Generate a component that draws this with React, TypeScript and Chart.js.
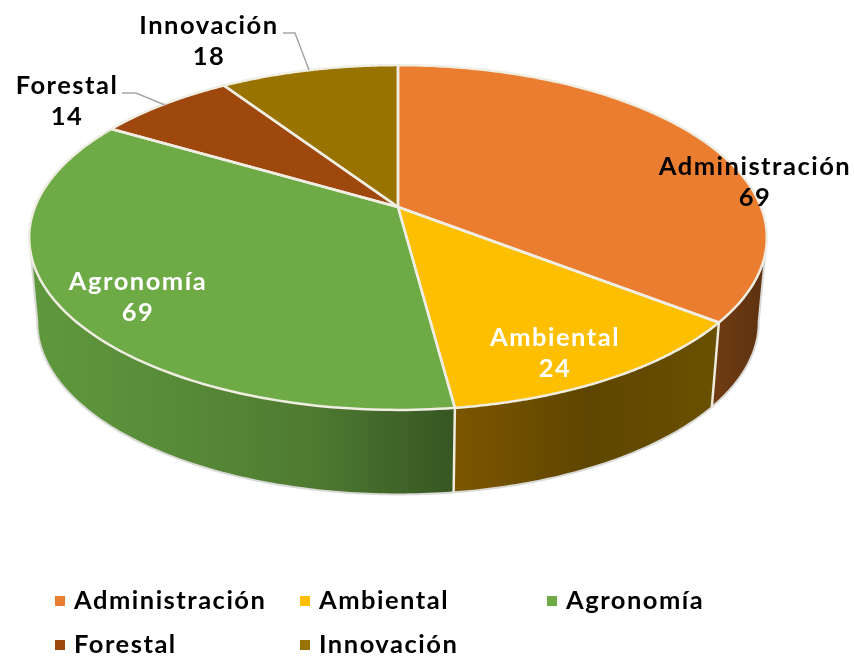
import React, { useEffect, useRef } from "react";
import { Chart, registerables } from "chart.js";

Chart.register(...registerables);

const categories = ["Administración", "Ambiental", "Agronomía", "Forestal", "Innovación"];
const values = [69, 24, 69, 14, 18];
const colors = ["#EB7D31", "#FDBF00", "#6EAB47", "#9E480E", "#997300"];
const wallStops = [
  ["#6E3B12", "#5C3110"],
  ["#7C5600", "#5F4600", "#6A5000"],
  ["#5F983D", "#588C38", "#4E7A31", "#375623"],
  ["#5F300A", "#5F300A"],
  ["#5C4500", "#5C4500"],
];
const labelTextColors = ["#000000", "#FFFFFF", "#FFFFFF", "#000000", "#000000"];

const FONT = "Lato, 'Noto Sans', sans-serif";
const CX = 398;
const CY = 207;
const A = 363;
const B = 167;
const K = 0.177;
const DEPTH = 84.5;
const SHRINK = 0.978;
const labelPos = [
  [755, 167],
  [555, 338],
  [138, 282],
  [67, 86],
  [209, 26],
];
const leaders: Record<number, number[][]> = {
  3: [[122, 93], [136, 93], [165, 105]],
  4: [[283, 33], [295, 33], [309, 70]],
};
const legendPos = [
  [55, 601],
  [300, 601],
  [547, 601],
  [55, 645],
  [300, 645],
];

function top(t: number): [number, number] {
  const u = Math.sin(t);
  const v = -Math.cos(t);
  const w = 1 - K * v;
  return [CX + (A * u) / w, CY + (B * v) / w];
}
function low(t: number): [number, number] {
  const [x, y] = top(t);
  return [CX + (x - CX) * SHRINK, y + DEPTH];
}

const VIS0 = (100 * Math.PI) / 180;
const VIS1 = (260 * Math.PI) / 180;

const pie3d = {
  id: "pie3d",
  beforeDatasetsDraw(chart: any) {
    const ctx: CanvasRenderingContext2D = chart.ctx;
    const meta = chart.getDatasetMeta(0);
    const bg = chart.data.datasets[0].backgroundColor as string[];
    const slices = meta.data.map((a: any) => ({
      s: a.startAngle + Math.PI / 2,
      e: a.endAngle + Math.PI / 2,
    }));
    ctx.save();
    ctx.lineJoin = "round";

    // side wall
    slices.forEach((sl: any, i: number) => {
      const a = Math.max(sl.s, VIS0);
      const b = Math.min(sl.e, VIS1);
      if (b <= a) return;
      const N = 80;
      const p0 = top(a);
      const p1 = top(b);
      const g = ctx.createLinearGradient(Math.min(p0[0], p1[0]), 0, Math.max(p0[0], p1[0]), 0);
      const st = wallStops[i];
      st.forEach((c, j) => g.addColorStop(j / (st.length - 1), c));
      ctx.beginPath();
      for (let n = 0; n <= N; n++) {
        const p = top(a + ((b - a) * n) / N);
        n ? ctx.lineTo(p[0], p[1]) : ctx.moveTo(p[0], p[1]);
      }
      for (let n = N; n >= 0; n--) {
        const p = low(a + ((b - a) * n) / N);
        ctx.lineTo(p[0], p[1]);
      }
      ctx.closePath();
      ctx.fillStyle = g;
      ctx.fill();
    });
    // wall outline
    ctx.beginPath();
    const N = 200;
    const startTop = top(VIS0);
    ctx.moveTo(startTop[0], startTop[1]);
    for (let n = 0; n <= N; n++) {
      const p = low(VIS0 + ((VIS1 - VIS0) * n) / N);
      ctx.lineTo(p[0], p[1]);
    }
    const endTop = top(VIS1);
    ctx.lineTo(endTop[0], endTop[1]);
    ctx.strokeStyle = "#D9D9D6";
    ctx.lineWidth = 2;
    ctx.stroke();
    // wall separators
    slices.forEach((sl: any) => {
      if (sl.s > VIS0 && sl.s < VIS1) {
        const p = top(sl.s);
        const q = low(sl.s);
        ctx.beginPath();
        ctx.moveTo(p[0], p[1]);
        ctx.lineTo(q[0], q[1]);
        ctx.strokeStyle = "#EFEBDD";
        ctx.lineWidth = 2.5;
        ctx.stroke();
      }
    });

    // top faces
    slices.forEach((sl: any, i: number) => {
      const n = 120;
      ctx.beginPath();
      ctx.moveTo(CX, CY);
      for (let k = 0; k <= n; k++) {
        const p = top(sl.s + ((sl.e - sl.s) * k) / n);
        ctx.lineTo(p[0], p[1]);
      }
      ctx.closePath();
      ctx.fillStyle = bg[i];
      ctx.fill();
    });
    slices.forEach((sl: any) => {
      const n = 120;
      ctx.beginPath();
      ctx.moveTo(CX, CY);
      for (let k = 0; k <= n; k++) {
        const p = top(sl.s + ((sl.e - sl.s) * k) / n);
        ctx.lineTo(p[0], p[1]);
      }
      ctx.closePath();
      ctx.strokeStyle = "#F0EDE2";
      ctx.lineWidth = 2.5;
      ctx.stroke();
    });
    ctx.restore();
    return false;
  },
  afterDraw(chart: any) {
    const ctx: CanvasRenderingContext2D = chart.ctx;
    const labels = chart.data.labels as string[];
    const data = chart.data.datasets[0].data as number[];
    const bg = chart.data.datasets[0].backgroundColor as string[];
    ctx.save();
    // leader lines
    Object.values(leaders).forEach((pts) => {
      ctx.beginPath();
      pts.forEach((p, i) => (i ? ctx.lineTo(p[0], p[1]) : ctx.moveTo(p[0], p[1])));
      ctx.strokeStyle = "#A6A6A6";
      ctx.lineWidth = 1.5;
      ctx.stroke();
    });
    // data labels
    ctx.font = `bold 25.5px ${FONT}`;
    (ctx as any).letterSpacing = "1.5px";
    ctx.textAlign = "center";
    ctx.textBaseline = "middle";
    labels.forEach((l, i) => {
      ctx.fillStyle = labelTextColors[i];
      ctx.fillText(l, labelPos[i][0], labelPos[i][1]);
      ctx.fillText(String(data[i]), labelPos[i][0], labelPos[i][1] + 31);
    });
    // legend
    ctx.textAlign = "left";
    labels.forEach((l, i) => {
      const [x, y] = legendPos[i];
      ctx.fillStyle = bg[i];
      ctx.fillRect(x, y - 5, 10, 10);
      ctx.fillStyle = "#000000";
      ctx.fillText(l, x + 19, y);
    });
    ctx.restore();
  },
};

export default function App() {
  const ref = useRef<HTMLCanvasElement>(null);
  useEffect(() => {
    const chart = new Chart(ref.current!, {
      type: "pie",
      data: {
        labels: categories,
        datasets: [{ data: values, backgroundColor: colors }],
      },
      options: {
        responsive: false,
        animation: false,
        plugins: { legend: { display: false }, tooltip: { enabled: false } },
      },
      plugins: [pie3d as any],
    });
    return () => chart.destroy();
  }, []);
  return (
    <div style={{ position: "fixed", left: 0, top: 0, width: 854, height: 656, background: "#fff" }}>
      <canvas ref={ref} width={854} height={656} style={{ display: "block" }} />
    </div>
  );
}
